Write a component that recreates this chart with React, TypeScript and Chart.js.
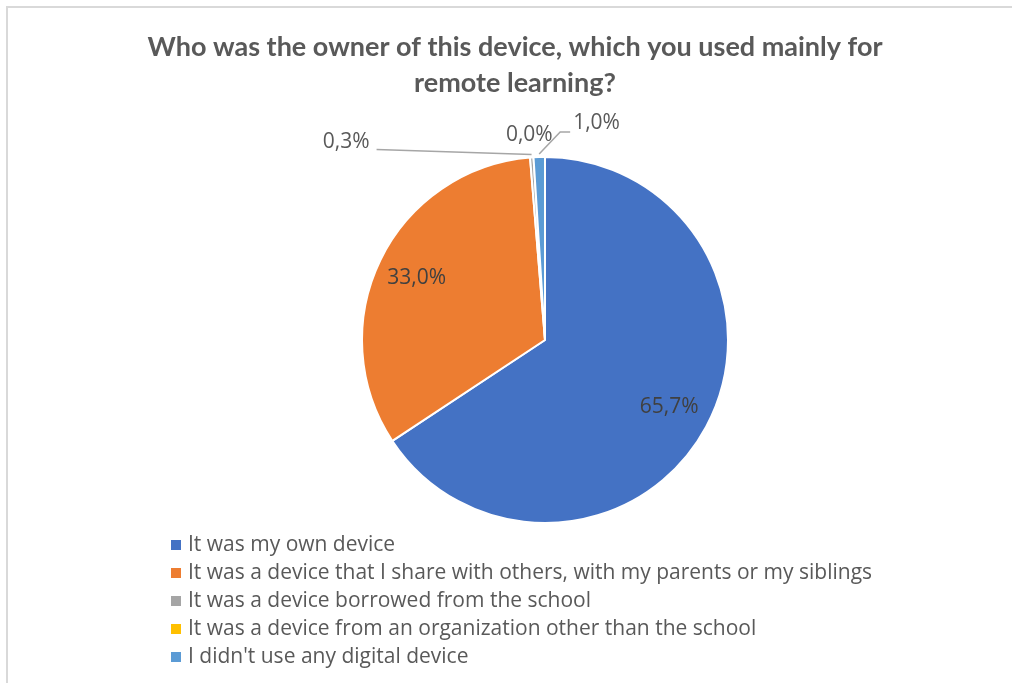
import React, { useEffect, useRef } from "react";
import { Chart, registerables } from "chart.js";

Chart.register(...registerables);

const categories = [
  "It was my own device",
  "It was a device that I share with others, with my parents or my siblings",
  "It was a device borrowed from the school",
  "It was a device from an organization other than the school",
  "I didn't use any digital device",
];
const shares = [65.7, 33.0, 0.3, 0.0, 1.0];
const sliceColors = ["#4472C4", "#ED7D31", "#A5A5A5", "#FFC000", "#5B9BD5"];
const valueLabels = shares.map((v) => v.toFixed(1).replace(".", ",") + "%");
const titleLines = [
  "Who was the owner of this device, which you used mainly for",
  "remote learning?",
];

// label placement styles (relative to the slice's outer edge)
const labelStyles: any[] = [
  { inside: 0.77 },
  { inside: 0.78 },
  { dx: -162, dy: -12, align: "right", leader: [[-155, -5]] },
  { dx: -4, dy: -19, align: "center", leader: null },
  { dx: 34, dy: -31, align: "left", leader: [[21, -22], [31, -22]] },
];

const W = 1012;
const H = 683;

const decorPlugin = {
  id: "decor",
  beforeDraw(chart: any) {
    const ctx = chart.ctx;
    ctx.save();
    ctx.fillStyle = "#ffffff";
    ctx.fillRect(0, 0, W, H);
    ctx.strokeStyle = "#D9D9D9";
    ctx.lineWidth = 2;
    ctx.beginPath();
    ctx.moveTo(7, H);
    ctx.lineTo(7, 7);
    ctx.lineTo(W, 7);
    ctx.stroke();
    ctx.restore();
  },
  afterDraw(chart: any) {
    const ctx = chart.ctx;
    ctx.save();
    // title
    ctx.fillStyle = "#595959";
    ctx.font = "bold 27px Lato";
    ctx.textAlign = "center";
    ctx.textBaseline = "middle";
    titleLines.forEach((t, i) => ctx.fillText(t, 515, 47 + i * 36));

    // legend
    ctx.font = "21px 'Open Sans'";
    ctx.textAlign = "left";
    categories.forEach((c, i) => {
      const y = 545 + i * 28;
      ctx.fillStyle = sliceColors[i];
      ctx.fillRect(171, y - 5, 10, 10);
      ctx.fillStyle = "#595959";
      ctx.fillText(c, 188, y);
    });

    // data labels
    const meta = chart.getDatasetMeta(0);
    ctx.font = "21px 'Open Sans'";
    meta.data.forEach((arc: any, i: number) => {
      const p = arc.getProps(["x", "y", "startAngle", "endAngle", "outerRadius"], true);
      const mid = (p.startAngle + p.endAngle) / 2;
      const st = labelStyles[i];
      ctx.fillStyle = "#404040";
      if (st.inside) {
        const r = p.outerRadius * st.inside;
        ctx.textAlign = "center";
        ctx.fillText(valueLabels[i], p.x + Math.cos(mid) * r, p.y + Math.sin(mid) * r);
        return;
      }
      const ax = p.x + Math.cos(mid) * (p.outerRadius + 3);
      const ay = p.y + Math.sin(mid) * (p.outerRadius + 3);
      if (st.leader) {
        ctx.strokeStyle = "#A6A6A6";
        ctx.lineWidth = 1.5;
        ctx.beginPath();
        ctx.moveTo(ax, ay);
        st.leader.forEach((pt: number[]) => ctx.lineTo(ax + pt[0], ay + pt[1]));
        ctx.stroke();
      }
      ctx.textAlign = st.align;
      ctx.fillStyle = "#595959";
      ctx.fillText(valueLabels[i], ax + st.dx, ay + st.dy);
    });
    ctx.restore();
  },
};

export default function App() {
  const ref = useRef<HTMLCanvasElement>(null);
  useEffect(() => {
    document.body.style.margin = "0";
    document.body.style.overflow = "hidden";
    const chart = new Chart(ref.current!, {
      type: "pie",
      data: {
        labels: categories,
        datasets: [
          {
            data: shares,
            backgroundColor: sliceColors,
            borderColor: "#ffffff",
            borderWidth: 2,
          },
        ],
      },
      options: {
        responsive: false,
        animation: false,
        layout: { padding: { top: 156, bottom: 159, left: 361, right: 283 } },
        plugins: {
          legend: { display: false },
          title: { display: false },
          tooltip: { enabled: false },
        },
      },
      plugins: [decorPlugin],
    });
    return () => chart.destroy();
  }, []);
  return (
    <div style={{ width: W, height: H }}>
      <canvas ref={ref} width={W} height={H} style={{ display: "block" }} />
    </div>
  );
}
